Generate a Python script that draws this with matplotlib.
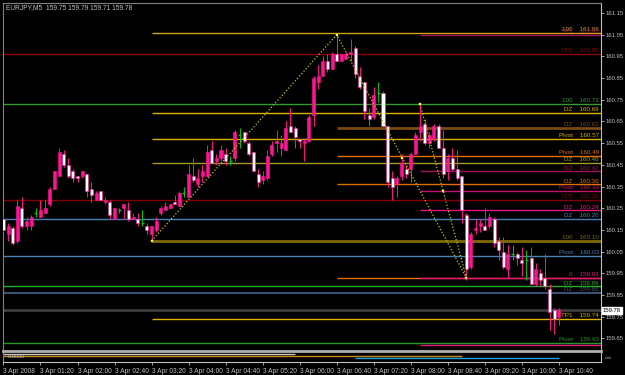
import numpy as np
import matplotlib.pyplot as plt
from matplotlib.transforms import blended_transform_factory

plt.rcParams['font.family'] = ['Liberation Sans Narrow', 'Liberation Sans', 'DejaVu Sans']

# EURJPY M5 bars, 3 Apr 2008 00:40 .. 10:40
bar_open = [160.20, 160.13, 160.16, 160.10, 160.25, 160.17, 160.17, 160.23, 160.21, 160.23,
            160.27, 160.34, 160.40, 160.50, 160.45, 160.42, 160.40, 160.40, 160.41, 160.34,
            160.29, 160.33, 160.28, 160.28, 160.20, 160.24, 160.25, 160.24, 160.20, 160.20,
            160.18, 160.17, 160.13, 160.15, 160.23, 160.24, 160.25, 160.28, 160.26, 160.32,
            160.30, 160.40, 160.36, 160.40, 160.40, 160.52, 160.47, 160.48, 160.50, 160.47,
            160.48, 160.59, 160.60, 160.55, 160.51, 160.41, 160.38, 160.39, 160.50, 160.55,
            160.53, 160.52, 160.63, 160.62, 160.57, 160.55, 160.56, 160.68, 160.83, 160.86,
            160.93, 160.89, 160.96, 160.93, 160.94, 160.96, 160.99, 160.86, 160.83, 160.68,
            160.67, 160.78, 160.78, 160.63, 160.39, 160.36, 160.40, 160.43, 160.43, 160.50,
            160.60, 160.64, 160.55, 160.57, 160.63, 160.53, 160.42, 160.48, 160.43, 160.40,
            160.22, 159.98, 160.15, 160.17, 160.17, 160.17, 160.20, 160.10, 160.05, 159.97,
            160.04, 160.04, 160.01, 160.01, 160.02, 159.90, 159.95, 159.93, 159.88, 159.78,
            159.75]
bar_high = [160.23, 160.18, 160.17, 160.29, 160.30, 160.21, 160.22, 160.25, 160.29, 160.29,
            160.35, 160.42, 160.53, 160.52, 160.48, 160.43, 160.40, 160.42, 160.41, 160.37,
            160.33, 160.33, 160.30, 160.29, 160.25, 160.25, 160.27, 160.28, 160.23, 160.23,
            160.24, 160.18, 160.17, 160.21, 160.26, 160.28, 160.27, 160.31, 160.33, 160.35,
            160.45, 160.48, 160.43, 160.45, 160.54, 160.56, 160.50, 160.54, 160.53, 160.49,
            160.61, 160.62, 160.60, 160.56, 160.51, 160.43, 160.42, 160.52, 160.56, 160.61,
            160.59, 160.65, 160.71, 160.63, 160.57, 160.57, 160.68, 160.86, 160.91, 160.95,
            160.96, 160.97, 161.05, 160.96, 160.97, 161.03, 161.00, 160.90, 160.83, 160.71,
            160.81, 160.83, 160.79, 160.63, 160.42, 160.40, 160.50, 160.45, 160.51, 160.60,
            160.73, 160.66, 160.60, 160.64, 160.64, 160.61, 160.50, 160.53, 160.52, 160.40,
            160.23, 160.14, 160.20, 160.20, 160.25, 160.23, 160.21, 160.12, 160.12, 160.08,
            160.08, 160.05, 160.07, 160.06, 160.07, 160.00, 159.97, 160.04, 159.90, 159.79,
            159.79]
bar_low = [160.14, 160.10, 160.08, 160.09, 160.16, 160.15, 160.15, 160.21, 160.21, 160.23,
           160.26, 160.34, 160.40, 160.44, 160.39, 160.37, 160.37, 160.39, 160.30, 160.28,
           160.29, 160.29, 160.27, 160.20, 160.20, 160.23, 160.20, 160.19, 160.20, 160.17,
           160.17, 160.13, 160.10, 160.14, 160.22, 160.24, 160.25, 160.27, 160.26, 160.30,
           160.30, 160.37, 160.35, 160.37, 160.40, 160.46, 160.45, 160.47, 160.45, 160.45,
           160.47, 160.53, 160.55, 160.49, 160.42, 160.35, 160.36, 160.38, 160.49, 160.51,
           160.49, 160.52, 160.60, 160.53, 160.53, 160.47, 160.56, 160.63, 160.80, 160.86,
           160.88, 160.89, 160.93, 160.93, 160.94, 160.93, 160.85, 160.80, 160.66, 160.63,
           160.66, 160.74, 160.63, 160.35, 160.29, 160.30, 160.38, 160.39, 160.37, 160.50,
           160.56, 160.54, 160.53, 160.56, 160.53, 160.39, 160.38, 160.42, 160.38, 160.18,
           159.92, 159.97, 160.13, 160.14, 160.15, 160.16, 160.07, 160.01, 159.97, 159.93,
           160.01, 159.99, 159.94, 159.92, 159.90, 159.89, 159.89, 159.88, 159.69, 159.67,
           159.71]
bar_close = [160.15, 160.17, 160.09, 160.26, 160.17, 160.19, 160.21, 160.23, 160.24, 160.25,
             160.34, 160.42, 160.51, 160.45, 160.40, 160.39, 160.39, 160.42, 160.33, 160.31,
             160.32, 160.29, 160.29, 160.22, 160.25, 160.24, 160.27, 160.20, 160.21, 160.18,
             160.18, 160.15, 160.17, 160.19, 160.25, 160.26, 160.27, 160.27, 160.32, 160.32,
             160.41, 160.38, 160.39, 160.42, 160.51, 160.46, 160.48, 160.52, 160.47, 160.47,
             160.60, 160.59, 160.56, 160.50, 160.42, 160.37, 160.40, 160.49, 160.54, 160.56,
             160.55, 160.62, 160.60, 160.58, 160.56, 160.56, 160.67, 160.85, 160.86, 160.93,
             160.89, 160.96, 160.93, 160.96, 160.96, 160.97, 160.87, 160.81, 160.70, 160.66,
             160.77, 160.78, 160.63, 160.37, 160.35, 160.39, 160.46, 160.41, 160.50, 160.59,
             160.63, 160.55, 160.59, 160.63, 160.53, 160.41, 160.48, 160.43, 160.39, 160.24,
             159.97, 160.13, 160.16, 160.18, 160.15, 160.21, 160.09, 160.06, 159.98, 160.04,
             160.04, 160.02, 160.00, 160.01, 159.90, 159.97, 159.92, 159.89, 159.77, 159.74,
             159.78]

time_ticks = list(range(0, 121, 8))
time_labels = ['3 Apr 2008', '3 Apr 01:20', '3 Apr 02:00', '3 Apr 02:40', '3 Apr 03:20',
               '3 Apr 04:00', '3 Apr 04:40', '3 Apr 05:20', '3 Apr 06:00', '3 Apr 06:40',
               '3 Apr 07:20', '3 Apr 08:00', '3 Apr 08:40', '3 Apr 09:20', '3 Apr 10:00',
               '3 Apr 10:40']
price_ticks = [161.15, 161.05, 160.95, 160.85, 160.75, 160.65, 160.55, 160.45, 160.35,
               160.25, 160.15, 160.05, 159.95, 159.85, 159.75, 159.65]

# horizontal levels: value, name, colour, first bar (None = whole chart)
level_values = [161.06, 161.05, 160.96, 160.73, 160.69, 160.62, 160.57, 160.49, 160.46, 160.42,
                160.36, 160.33, 160.29, 160.24, 160.20, 160.10, 160.03, 159.93, 159.93, 159.89,
                159.86, 159.74, 159.63, 159.62]
level_names = ['100', 'TP1', 'TP2', '100', 'DZ', 'DZ', 'Pivot', 'Pivot', 'DZ', 'DZ',
               'DZ', 'Pivot', 'TP1', 'DZ', 'DZ', '100', 'Pivot', '', '0', 'DZ',
               'DZ', 'TP1', 'Pivot', '']
level_colors = ['#D4A017', '#A0145A', '#8B0000', '#2E9B2E', '#E0B000', '#7A4A12', '#E0B000',
                '#E07000', '#A89A20', '#A0145A', '#E07000', '#C8106E', '#800000', '#E8147E',
                '#4682B4', '#7F6A00', '#4A80B4', '#E07000', '#E8147E', '#22B022', '#3A5272',
                '#E0B000', '#1E9B1E', '#E8147E']
level_start = [32, 90, None, None, 32, 72, 32, 72, 32, 90,
               72, 90, None, 90, None, 32, None, 72, 90, None,
               None, 32, None, 90]
level_width = [1, 1, 1, 1, 1, 2, 1, 1, 1, 1, 1, 1, 1, 1, 1, 2, 1, 1, 1, 1, 1.5, 1, 1, 1]

bid = 159.78
# zigzag swing points (bar, price)
zz1_x = [32, 72, 100]
zz1_y = [160.10, 161.05, 159.93]
zz2_x = [90, 100]
zz2_y = [160.73, 159.93]
pattern_x = [86, 95]
pattern_y = [160.48, 160.33]

# indicator window lines: value, first bar, last bar, colour
sub_vals = [8.3, 6.3, 4.0]
sub_from = [0, 0, 76]
sub_to = [63, 99, 120]
sub_colors = ['#C8C8C8', '#C88A20', '#1EA0E0']

W, H = 625, 375
BULL = '#FF1493'
DOJI = '#00C800'
AXC = '#C0C0C0'
n = len(bar_open)
xlim = (-0.1, 129.1)

fig = plt.figure(figsize=(W / 100, H / 100), dpi=100, facecolor='black')
ax = fig.add_axes([3 / W, 1 - 350 / H, 598 / W, 347 / H], facecolor='black')
sub = fig.add_axes([3 / W, 1 - 362 / H, 598 / W, 11 / H], facecolor='black')

# levels
for v, nm, c, s, lw in zip(level_values, level_names, level_colors, level_start, level_width):
    x0 = xlim[0] if s is None else s
    ax.hlines(v, x0, xlim[1], colors=c, linewidth=lw, zorder=1)
    if nm:
        ax.text(128.6, v + 0.004, f'{nm}    {v:.2f}', color=c, fontsize=4.5,
                ha='right', va='bottom', zorder=5)
ax.hlines(bid, xlim[0], xlim[1], colors='#3C3C3C', linewidth=2, zorder=1)

# candles
bw = 0.65
for i in range(n):
    o, h, l, c = bar_open[i], bar_high[i], bar_low[i], bar_close[i]
    if c > o:
        ax.vlines(i, l, h, colors=BULL, linewidth=0.7, zorder=3)
        ax.bar(i, c - o, bottom=o, width=bw, color=BULL, edgecolor=BULL, linewidth=0.4, zorder=4)
    elif c < o:
        ax.vlines(i, l, h, colors=BULL, linewidth=0.7, zorder=3)
        ax.bar(i, o - c, bottom=c, width=bw, color='white', edgecolor=BULL, linewidth=0.4, zorder=4)
    else:
        ax.vlines(i, l, h, colors=DOJI, linewidth=0.7, zorder=3)
        ax.hlines(o, i - bw / 2, i + bw / 2, colors=DOJI, linewidth=1, zorder=4)

# zigzag
ax.plot(zz1_x, zz1_y, color='#C8C800', linestyle=(0, (1, 1.6)), linewidth=0.9, zorder=6)
ax.plot(zz2_x, zz2_y, color='#C8C800', linestyle=(0, (1, 1.6)), linewidth=0.9, zorder=6)
ax.plot(zz1_x + zz2_x[:1] + pattern_x, zz1_y + zz2_y[:1] + pattern_y, linestyle='none',
        marker='s', markersize=2, markerfacecolor='#FFFF80', markeredgecolor='#E0E000',
        markeredgewidth=0.3, zorder=7)

ax.set_xlim(*xlim)
ax.set_ylim(161.15 - 337 / 217, 161.15 + 10 / 217)
ax.yaxis.tick_right()
ax.set_yticks(price_ticks)
ax.set_yticklabels([f'{p:.2f}' for p in price_ticks])
ax.tick_params(axis='y', colors=AXC, labelsize=4.2, length=2, width=0.6, pad=1.5)
ax.set_xticks([])
for side in ['left', 'top']:
    ax.spines[side].set_color('#808080')
ax.spines['right'].set_color(AXC)
ax.spines['bottom'].set_visible(False)

tr = blended_transform_factory(ax.transAxes, ax.transData)
ax.text(1.003, bid, f'{bid:.2f}', transform=tr, color='black', fontsize=4.2, va='center',
        ha='left', bbox=dict(facecolor='white', edgecolor='white', pad=0.6), zorder=8)

# indicator window
for v, a, b, c in zip(sub_vals, sub_from, sub_to, sub_colors):
    sub.hlines(v, a, b, colors=c, linewidth=1)
sub.text(1, 5.3, '0.0000', color=AXC, fontsize=4, va='center', ha='left')
sub.set_xlim(*xlim)
sub.set_ylim(0, 11)
sub.set_yticks([])
sub.set_xticks(time_ticks)
sub.set_xticklabels(time_labels, ha='left')
sub.tick_params(axis='x', colors=AXC, labelsize=4.8, length=2.5, width=0.6, pad=2)
sub.spines['top'].set_color('#B0B0B0')
sub.spines['top'].set_linewidth(2)
sub.spines['left'].set_color('#808080')
sub.spines['right'].set_color(AXC)
sub.spines['bottom'].set_color(AXC)
sub.text(1.008, 0.5, '0\n0', transform=sub.transAxes, color=AXC, fontsize=3.2,
         va='center', ha='left', rotation=90, linespacing=0.8)

fig.text(6 / W, 1 - 8 / H, 'EURJPY,M5  159.75 159.79 159.71 159.78', color=AXC,
         fontsize=4.8, va='center', ha='left')

fig.savefig('out.png', dpi=100, facecolor='black')
